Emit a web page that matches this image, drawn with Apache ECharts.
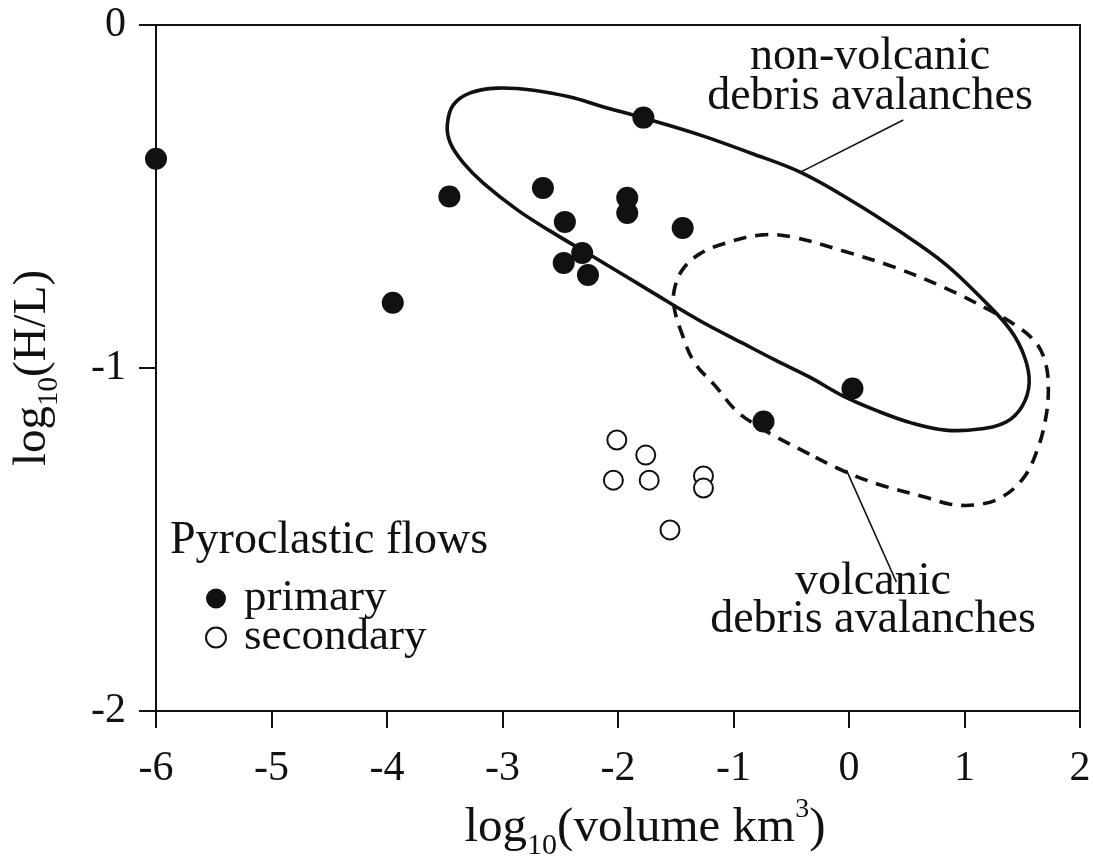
<!DOCTYPE html>
<html>
<head>
<meta charset="utf-8">
<script src="https://cdn.jsdelivr.net/npm/echarts@6/dist/echarts.min.js"></script>
<style>
  html, body { margin: 0; padding: 0; background: #fff; }
  #chart { width: 1093px; height: 863px; }
</style>
</head>
<body>
<div id="chart"></div>
<script>
// Axis ticks
const xTickValues = [-6, -5, -4, -3, -2, -1, 0, 1, 2];
const yTickValues = [-2, -1, 0];

// Pyroclastic flows: [log10(volume km^3), log10(H/L)]
const primaryFlows = [
  [-6.00, -0.39], [-3.46, -0.50], [-3.95, -0.81], [-1.78, -0.27],
  [-2.65, -0.475], [-2.46, -0.574], [-1.92, -0.504], [-1.92, -0.548],
  [-1.44, -0.592], [-2.31, -0.665], [-2.47, -0.694], [-2.26, -0.729],
  [0.03, -1.06], [-0.74, -1.156]
];
const secondaryFlows = [
  [-2.01, -1.21], [-1.76, -1.254], [-2.04, -1.327], [-1.73, -1.327],
  [-1.26, -1.315], [-1.26, -1.35], [-1.55, -1.472]
];

// Envelope of non-volcanic debris avalanches (closed outline, vertices in order)
const nonVolcanicEnvelope = [
  [-0.924, -0.927], [-1.287, -0.863], [-1.720, -0.776], [-2.153, -0.688],
  [-2.586, -0.601], [-2.872, -0.539], [-3.166, -0.461], [-3.339, -0.402],
  [-3.452, -0.344], [-3.478, -0.292], [-3.426, -0.233], [-3.279, -0.198],
  [-3.045, -0.184], [-2.733, -0.190], [-2.413, -0.210], [-2.153, -0.236],
  [-1.781, -0.271], [-1.287, -0.321], [-0.854, -0.373], [-0.422, -0.429],
  [0.011, -0.510], [0.444, -0.603], [0.834, -0.697], [1.163, -0.802],
  [1.397, -0.889], [1.520, -0.968], [1.560, -1.044], [1.500, -1.111],
  [1.362, -1.157], [1.128, -1.178], [0.834, -1.181], [0.539, -1.160],
  [0.245, -1.125], [-0.049, -1.082], [-0.344, -1.026], [-0.638, -0.977]
];

// Envelope of volcanic debris avalanches (closed outline, vertices in order)
const volcanicEnvelope = [
  [-0.343, -1.251], [-0.629, -1.201], [-0.837, -1.160], [-0.985, -1.122],
  [-1.158, -1.052], [-1.340, -0.983], [-1.452, -0.895], [-1.513, -0.825],
  [-1.513, -0.773], [-1.443, -0.714], [-1.296, -0.668], [-1.071, -0.636],
  [-0.751, -0.612], [-0.491, -0.618], [-0.049, -0.659], [0.392, -0.706],
  [0.834, -0.767], [1.215, -0.831], [1.440, -0.875], [1.613, -0.924],
  [1.700, -0.983], [1.726, -1.064], [1.700, -1.152], [1.630, -1.239],
  [1.510, -1.321], [1.310, -1.379], [1.094, -1.399], [0.877, -1.397],
  [0.687, -1.379], [0.245, -1.338], [-0.049, -1.300]
];

// Leader lines from the envelope labels
const nonVolcanicLeader = [[-0.42, -0.429], [0.47, -0.277]];
const volcanicLeader = [[-0.023, -1.297], [0.41, -1.624]];

const INK = '#111';
const SERIF = '"Liberation Serif", "DejaVu Serif", serif';

// Closed smooth outline through pixel points (chord-weighted cardinal spline)
function closedSplinePath(pts, s) {
  const n = pts.length;
  const dist = (a, b) => Math.hypot(b[0] - a[0], b[1] - a[1]);
  const outCp = [], inCp = [];
  for (let i = 0; i < n; i++) {
    const p0 = pts[(i - 1 + n) % n], p1 = pts[i], p2 = pts[(i + 1) % n];
    const d0 = dist(p0, p1), d1 = dist(p1, p2), sum = d0 + d1 || 1;
    const tx = p2[0] - p0[0], ty = p2[1] - p0[1];
    outCp[i] = [p1[0] + tx * s * d1 / sum, p1[1] + ty * s * d1 / sum];
    inCp[i] = [p1[0] - tx * s * d0 / sum, p1[1] - ty * s * d0 / sum];
  }
  let d = 'M' + pts[0][0] + ' ' + pts[0][1];
  for (let i = 0; i < n; i++) {
    const j = (i + 1) % n;
    d += ' C' + outCp[i][0] + ' ' + outCp[i][1] + ' ' + inCp[j][0] + ' ' + inCp[j][1] +
         ' ' + pts[j][0] + ' ' + pts[j][1];
  }
  return d + ' Z';
}

function envelopeSeries(name, outline, dash) {
  return {
    name: name,
    type: 'custom',
    data: outline,
    silent: true,
    clip: true,
    renderItem: function (params, api) {
      if (params.dataIndex !== 0) return null;
      const pts = outline.map(p => api.coord(p));
      return {
        type: 'path',
        shape: { pathData: closedSplinePath(pts, 0.38) },
        style: {
          fill: 'none', stroke: INK, lineWidth: 3.6,
          lineDash: dash || null, lineCap: 'butt', lineJoin: 'round'
        }
      };
    }
  };
}

function nameRich(size) {
  return {
    t: { fontFamily: SERIF, fontSize: size, lineHeight: Math.round(size * 1.32), color: INK, verticalAlign: 'middle' },
    s: { fontFamily: SERIF, fontSize: Math.round(size * 0.62), lineHeight: Math.round(size * 0.62), color: INK, verticalAlign: 'bottom' },
    p: { fontFamily: SERIF, fontSize: Math.round(size * 0.58), lineHeight: Math.round(size * 0.58), color: INK, verticalAlign: 'top' }
  };
}

const chart = echarts.init(document.getElementById('chart'), null, { renderer: 'canvas' });

chart.setOption({
  animation: false,
  backgroundColor: '#fff',
  grid: {
    left: 156, right: 13, top: 25, bottom: 152,
    outerBoundsMode: 'none',
    show: true, borderColor: INK, borderWidth: 2, backgroundColor: 'transparent'
  },
  xAxis: {
    type: 'value',
    min: xTickValues[0], max: xTickValues[xTickValues.length - 1], interval: 1,
    axisLine: { show: true, onZero: false, lineStyle: { color: INK, width: 2 } },
    axisTick: { show: true, inside: false, length: 17, lineStyle: { color: INK, width: 2 } },
    splitLine: { show: false },
    axisLabel: { color: INK, fontFamily: SERIF, fontSize: 42, margin: 37 },
    name: '{t|log}{s|10}{t|(volume km}{p|3}{t|)}',
    nameLocation: 'middle',
    nameGap: 85,
    nameTextStyle: { rich: nameRich(49), padding: [0, 0, 0, 54] }
  },
  yAxis: {
    type: 'value',
    min: yTickValues[0], max: yTickValues[yTickValues.length - 1], interval: 1,
    axisLine: { show: true, onZero: false, lineStyle: { color: INK, width: 2 } },
    axisTick: { show: true, inside: false, length: 17, lineStyle: { color: INK, width: 2 } },
    splitLine: { show: false },
    axisLabel: { color: INK, fontFamily: SERIF, fontSize: 42, margin: 30 },
    name: '{t|log}{s|10}{t|(H/L)}',
    nameLocation: 'middle',
    nameRotate: 90,
    nameGap: 92,
    nameTextStyle: { rich: nameRich(47) }
  },
  legend: {
    data: ['primary', 'secondary'],
    orient: 'vertical',
    left: 205, top: 576,
    padding: 0,
    itemGap: -6,
    itemWidth: 20, itemHeight: 20,
    selectedMode: false,
    textStyle: { color: INK, fontFamily: SERIF, fontSize: 45, lineHeight: 40, padding: [0, 0, 0, 13] }
  },
  graphic: [
    {
      type: 'text', left: 170, top: 518,
      style: { text: 'Pyroclastic flows', fill: INK, font: '46px ' + SERIF }
    },
    {
      type: 'text', x: 870, y: 37,
      style: {
        text: 'non-volcanic\ndebris avalanches', fill: INK, font: '46px ' + SERIF,
        align: 'center', verticalAlign: 'top', lineHeight: 40
      }
    },
    {
      type: 'text', x: 873, y: 563,
      style: {
        text: 'volcanic\ndebris avalanches', fill: INK, font: '46px ' + SERIF,
        align: 'center', verticalAlign: 'top', lineHeight: 38
      }
    }
  ],
  series: [
    envelopeSeries('non-volcanic debris avalanches', nonVolcanicEnvelope, null),
    envelopeSeries('volcanic debris avalanches', volcanicEnvelope, [13, 9]),
    {
      name: 'leader-nv', type: 'line', data: nonVolcanicLeader,
      symbol: 'none', silent: true, lineStyle: { color: INK, width: 1.6 }
    },
    {
      name: 'leader-v', type: 'line', data: volcanicLeader,
      symbol: 'none', silent: true, lineStyle: { color: INK, width: 1.6 }
    },
    {
      name: 'primary', type: 'scatter', data: primaryFlows,
      symbol: 'circle', symbolSize: 22, clip: false,
      itemStyle: { color: INK, opacity: 1 }
    },
    {
      name: 'secondary', type: 'scatter', data: secondaryFlows,
      symbol: 'circle', symbolSize: 19, clip: false,
      itemStyle: { color: '#fff', borderColor: INK, borderWidth: 2, opacity: 1 }
    }
  ]
});
</script>
</body>
</html>
